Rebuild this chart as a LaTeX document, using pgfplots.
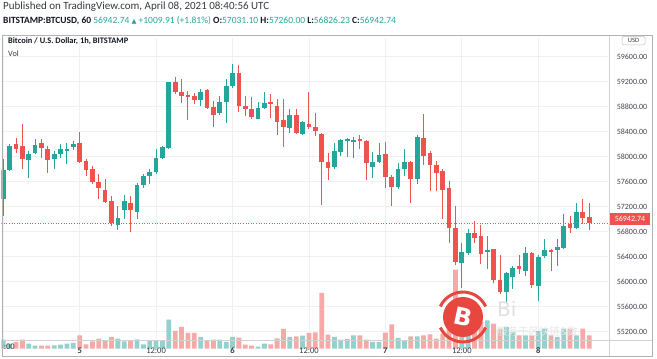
\documentclass[border=0pt]{standalone}
\usepackage{pgfplots}
\pgfplotsset{compat=1.18}
\usepackage{pgfplotstable}
\usepackage{fontspec}
\setmainfont{Carlito}
\newfontfamily\dejavu{DejaVu Sans}
\newfontfamily\cjk{Noto Sans CJK SC}
\definecolor{tvgreen}{HTML}{26A69A}
\definecolor{tvred}{HTML}{EF5350}
\definecolor{volgreen}{HTML}{92D2CC}
\definecolor{volred}{HTML}{F7A9A7}
\definecolor{txt}{HTML}{131722}
\definecolor{gridc}{HTML}{EEF0F4}
\definecolor{wmred}{HTML}{E8473F}
% rising candles: hour index, open, high, low, close, volume
\pgfplotstableread{
i o h l c v
0 57317 57957 57051 57787 27
1 57787 58197 57771 58171 15
4 57941 58091 57664 58037 15
5 58053 58288 58037 58187 9
8 57968 58091 57808 58043 10
9 58037 58197 57984 58117 12
10 58096 58213 57877 58128 15
11 58155 58251 58107 58208 17
18 56901 57211 56827 57013 30
19 57141 57381 56997 57291 22
21 57120 57573 56997 57547 28
22 57541 57717 57504 57691 13
23 57691 57797 57557 57755 23
24 57755 58128 57717 57979 25
25 57984 58171 57957 58155 25
26 58144 59205 58128 59195 87
31 58907 59077 58811 59035 35
34 58693 58971 58661 58880 27
35 58875 59237 58533 59131 20
36 59131 59477 59104 59333 35
40 58608 58875 58597 58784 6
41 58784 59035 58757 58853 15
45 58464 58768 58384 58661 35
47 58357 58571 58341 58555 39
52 57840 58213 57797 58096 35
53 58075 58288 58011 58267 27
54 58261 58299 57995 58288 29
55 58245 58320 57984 58267 40
58 57840 58075 57664 57925 20
59 57920 58213 57904 58021 20
62 57520 57904 57488 57808 32
63 57808 58128 57691 57915 25
65 57648 58341 57557 58320 37
72 56304 56624 55904 56475 150
73 56464 56848 56421 56773 90
76 56475 56731 56208 56507 85
79 55835 56155 55637 56133 65
80 56080 56251 55877 56213 50
82 56171 56560 56091 56453 40
84 55941 56421 55691 56400 53
85 56411 56688 56384 56507 60
87 56507 56677 56251 56560 35
88 56544 57077 56517 56901 60
90 56853 57264 56837 57115 40
}\up
% falling candles
\pgfplotstableread{
i o h l c v
2 58208 58304 58064 58128 20
3 58171 58517 57797 57957 27
6 58213 58277 57984 58133 9
7 58128 58171 57744 57957 9
12 58224 58395 57904 57920 40
13 57931 57957 57691 57787 13
14 57808 57851 57557 57595 22
15 57595 57717 57317 57493 30
16 57461 57648 57264 57280 23
17 57291 57371 56891 56944 35
20 57253 57371 56795 57147 25
27 59195 59280 58997 59035 53
28 59040 59248 58864 58976 65
29 58981 59051 58587 58955 47
30 58971 59024 58837 58907 47
32 59067 59088 58757 58773 23
33 58795 58891 58475 58661 27
37 59344 59477 58720 58811 33
38 58811 58971 58651 58768 12
39 58757 58960 58608 58635 9
42 58880 58997 58624 58853 13
43 58811 58928 58357 58560 31
44 58587 58928 58160 58480 59
46 58667 58757 58357 58384 37
48 58517 59035 58448 58480 47
49 58480 58693 58331 58411 49
50 58373 58384 57221 57920 167
51 57915 58053 57627 57824 42
56 58277 58341 58117 58256 40
57 58261 58261 57627 57904 27
60 58037 58235 57504 57680 48
61 57680 57701 57211 57520 73
64 57920 57931 57264 57648 37
66 58304 58677 57861 58011 40
67 58064 58091 57451 57861 43
68 57861 57931 57451 57744 30
69 57771 57797 56997 57467 45
70 57504 57611 56624 56864 60
71 56853 57211 56272 56315 237
74 56773 56971 56613 56693 70
75 56731 56901 56277 56437 80
77 56517 56528 55984 56027 75
78 56027 56421 55797 55835 60
81 56251 56421 56117 56197 40
83 56453 56475 55904 55941 40
86 56507 56528 56171 56485 40
89 56917 57061 56784 56853 60
91 57115 57317 56917 57013 60
92 57031.10 57260 56826.23 56942.74 40
}\dn
\pgfplotsset{
  wick/.style={draw=none, mark=none, forget plot,
    error bars/.cd, y dir=both, y explicit, error mark=none,
    error bar style={line width=0.9pt, draw=#1}},
  body/.style={draw=none, mark=none, forget plot,
    error bars/.cd, y dir=both, y explicit, error mark=none,
    error bar style={line width=4.7pt, draw=#1}},
}
\begin{document}
\begin{tikzpicture}[x=1pt,y=1pt]
\path[use as bounding box, fill=white] (0,0) rectangle (657,359);
% grid axis
\begin{axis}[at={(2,26)}, anchor=south west, scale only axis, width=607pt, height=305pt,
  xmin=-0.31, xmax=95, ymin=55024, ymax=59904, scaled ticks=false,
  axis line style={draw=none}, xtick={0,12,...,84}, ytick={55200,55600,...,59600},
  xticklabel=\empty, yticklabel=\empty, grid=major,
  major grid style={gridc, line width=0.7pt}, major tick length=0pt]
\end{axis}
% volume axis
\begin{axis}[at={(2,26)}, anchor=south west, scale only axis, width=607pt, height=305pt,
  xmin=-0.31, xmax=95, ymin=-5.1, ymax=909.9, axis lines=none, clip=true]
\addplot[ybar, bar width=4.8pt, fill=volgreen, draw=none] table[x=i,y=v]{\up};
\addplot[ybar, bar width=4.8pt, fill=volred, draw=none] table[x=i,y=v]{\dn};
\end{axis}
% price axis
\begin{axis}[at={(2,26)}, anchor=south west, scale only axis, width=607pt, height=305pt,
  xmin=-0.31, xmax=95, ymin=55024, ymax=59904, scaled ticks=false,
  axis line style={draw=none}, major tick length=0pt,
  /pgf/number format/assume math mode=true,
  xtick={12,24,...,84},
  xticklabels={\textbf{5},12:00,\textbf{6},12:00,\textbf{7},12:00,\textbf{8}},
  xticklabel style={font=\fontsize{8.5}{9}\selectfont, text=txt!85, anchor=center, yshift=-8pt},
  ytick={55200,55600,...,59600},
  yticklabels={55200.00,55600.00,56000.00,56400.00,56800.00,57200.00,57600.00,58000.00,58400.00,58800.00,59200.00,59600.00},
  yticklabel pos=right,
  yticklabel style={font=\fontsize{8}{9}\selectfont, text=txt!80, anchor=west, xshift=5pt}]
\draw[tvred, dotted, line width=0.6pt] (axis cs:-0.31,56942.74) -- (axis cs:95,56942.74);
\addplot[wick=tvgreen] table[x=i, y expr={(\thisrow{h}+\thisrow{l})/2}, y error expr={(\thisrow{h}-\thisrow{l})/2}]{\up};
\addplot[wick=tvred] table[x=i, y expr={(\thisrow{h}+\thisrow{l})/2}, y error expr={(\thisrow{h}-\thisrow{l})/2}]{\dn};
\addplot[body=tvgreen] table[x=i, y expr={(\thisrow{o}+\thisrow{c})/2}, y error expr={(\thisrow{c}-\thisrow{o})/2}]{\up};
\addplot[body=tvred] table[x=i, y expr={(\thisrow{o}+\thisrow{c})/2}, y error expr={(\thisrow{o}-\thisrow{c})/2}]{\dn};
\end{axis}
% cover anything above the pane
\fill[white] (0,324.4) rectangle (657,331);
% frame
\draw[gray!35, line width=0.6pt] (609,3) -- (609,324);
\draw[gray!35, line width=0.6pt] (2,19) -- (652,19);
\draw[gray!60, line width=0.9pt] (2,3) rectangle (652,324);
\node[anchor=east, font=\fontsize{8.5}{9}\selectfont, text=txt!85, inner sep=0pt] at (15,12) {:00};
% price label
\fill[tvred] (610,134) rectangle (650,146);
\node[font=\fontsize{8}{9}\selectfont, text=white, inner sep=0pt] at (630,140) {56942.74};
% USD box
\draw[gray!50, rounded corners=1.5pt, line width=0.5pt, fill=white] (622,314) rectangle (645,322.5);
\node[font=\fontsize{6.5}{7}\selectfont, text=txt!85, inner sep=0pt] at (633.5,318.3) {USD};
% headers
\node[anchor=west, font=\fontsize{11}{12}\selectfont, text=txt!85, inner sep=0pt] at (3,352) {Published on TradingView.com, April 08, 2021 08:40:56 UTC};
\node[anchor=west, font=\fontsize{9.5}{10}\selectfont, text=txt, inner sep=0pt] at (3,338) {\textbf{BITSTAMP:BTCUSD, 60} \textcolor{tvgreen}{56942.74 {\dejavu\fontsize{6.5}{7}\selectfont ▲} +1009.91 (+1.81\%)} \textbf{O:}\textcolor{tvgreen}{57031.10} \textbf{H:}\textcolor{tvgreen}{57260.00} \textbf{L:}\textcolor{tvgreen}{56826.23} \textbf{C:}\textcolor{tvgreen}{56942.74}};
\node[anchor=west, font=\bfseries\fontsize{8.4}{9}\selectfont, text=txt, inner sep=0pt] at (8,318) {Bitcoin / U.S. Dollar, 1h, BITSTAMP};
\node[anchor=west, font=\fontsize{8.2}{9}\selectfont, text=txt!85, inner sep=0pt] at (8,305) {Vol};
% watermark
\draw[wmred, line width=3pt] (463,42) ++(25:25) arc (25:155:25);
\draw[wmred, line width=3pt] (463,42) ++(205:25) arc (205:335:25);
\fill[wmred] (463,42) circle (20);
\node[font=\dejavu\bfseries\fontsize{24}{24}\selectfont, text=white, rotate=-12] at (463,42) {B};
\node[anchor=west, font=\dejavu\fontsize{20}{20}\selectfont, text=white!88!black, inner sep=0pt] at (497,50) {Bi};
\node[anchor=west, font=\cjk\fontsize{10.5}{11}\selectfont, text=white!90!black, inner sep=0pt] at (497,27) {服务于区块链\&数};
\end{tikzpicture}
\end{document}
